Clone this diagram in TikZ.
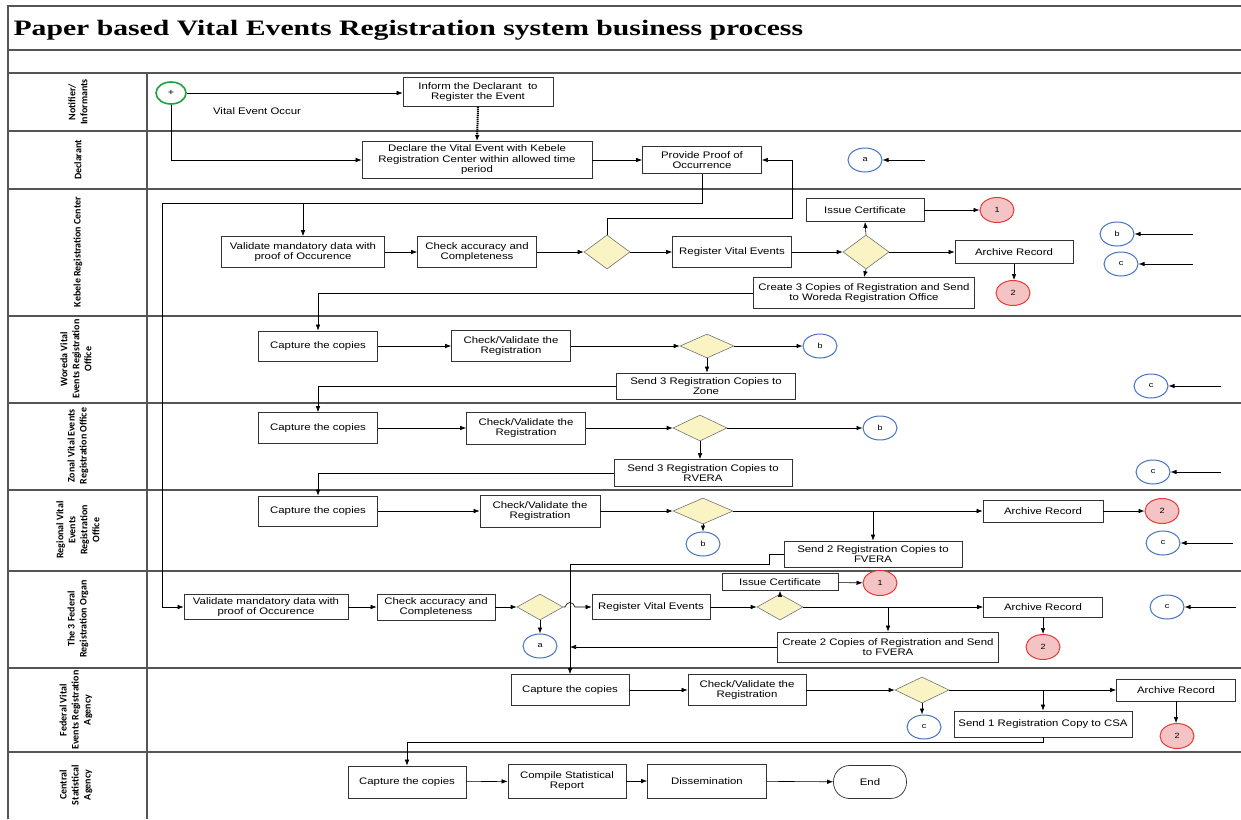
\documentclass[tikz,border=0pt]{standalone}
\usepackage{fontspec}
\setmainfont{Liberation Sans}
\newfontfamily\boxfont[FakeStretch=1.2]{Liberation Sans}
\newfontfamily\titlefont[FakeStretch=1.35]{Liberation Serif}
\newfontfamily\lanefont{Carlito}
\usetikzlibrary{shapes.geometric}
\usetikzlibrary{arrows.meta}
\usetikzlibrary{positioning}
\usepackage{xcolor}
\definecolor{decfill}{RGB}{250,244,196}
\definecolor{connblue}{RGB}{68,114,196}
\definecolor{endred}{RGB}{229,57,53}
\definecolor{endfill}{RGB}{244,196,196}
\definecolor{startgreen}{RGB}{30,160,60}
\definecolor{laneline}{RGB}{85,85,85}

\begin{document}
\begin{tikzpicture}[x=1pt,y=-1pt,>={Latex[length=6pt,width=4.5pt]},
  box/.style={draw=black!80,line width=0.7pt,fill=white,inner sep=1pt,align=center,font=\boxfont\fontsize{9.5}{10.5}\selectfont},
  dec/.style={diamond,draw=black!55,line width=0.6pt,fill=decfill,inner sep=0pt,minimum width=46pt,minimum height=34pt},
  conn/.style={ellipse,draw=connblue,line width=1pt,inner sep=0pt,minimum width=34pt,minimum height=24pt,font=\boxfont\fontsize{7.5}{8}\selectfont},
  endcirc/.style={ellipse,draw=endred,fill=endfill,line width=1pt,inner sep=0pt,minimum width=34pt,minimum height=25pt,font=\boxfont\fontsize{7.5}{8}\selectfont},
  lane/.style={rotate=90,align=center,font=\lanefont\bfseries\fontsize{10}{12}\selectfont},
  flow/.style={->,line width=0.6pt}]
\useasboundingbox (0,0) rectangle (1241,819);

% frame and swim lanes
\draw[laneline,line width=1.2pt] (8,819) -- (8,6) -- (1241,6);
\foreach \y in {50,73,131,189,316,403,490,571,668,752}
  \draw[laneline,line width=1.2pt] (8,\y) -- (1241,\y);
\draw[laneline,line width=1.2pt] (147,73) -- (147,819);
\node[anchor=west,font=\titlefont\bfseries\fontsize{22}{22}\selectfont] (title) at (10,30) {Paper based Vital Events Registration system business process};

\node[lane] (l1) at (78,102) {Notifier/\\Informants};
\node[lane] (l2) at (78,160) {Declarant};
\node[lane] (l3) at (78,252) {Kebele Registration Center};
\node[lane] (l4) at (76,359) {Woreda Vital\\Events Registration\\Office};
\node[lane] (l5) at (78,446) {Zonal Vital Events\\Registration Office};
\node[lane] (l6) at (78,530) {Regional Vital\\Events\\Registration\\Office};
\node[lane] (l7) at (78,619) {The 3 Federal\\Registration Organ};
\node[lane] (l8) at (76,710) {Federal Vital\\Events Registration\\Agency};
\node[lane] (l9) at (76,785) {Central\\Statistical\\Agency};

% notifier and declarant
\node[ellipse,draw=startgreen,line width=1.6pt,minimum width=30pt,minimum height=22pt,inner sep=0pt,font=\boxfont\small] (start) at (171,93) {+};
\node[font=\boxfont\fontsize{9.5}{10}\selectfont] (occur) at (257,111) {Vital Event Occur};
\node[box,minimum width=150pt,minimum height=29pt] (inform) at (478,92) {Inform the Declarant\ \ to\\Register the Event};
\node[box,minimum width=230pt,minimum height=37pt] (declare) at (477,160) {Declare the Vital Event with Kebele\\Registration Center within allowed time\\period};
\node[box,minimum width=119pt,minimum height=27pt] (prov) at (702,160) {Provide Proof of\\Occurrence};
\node[conn] (a1) at (865,160) {a};
\coordinate (a1in) at (925,160);

\draw[flow] (start.east) -- (start.east -| inform.west);
\draw[flow] (start.south) |- (declare.west);
\draw[->,line width=2pt,dash pattern=on 1.2pt off 0.8pt] (inform.south) -- (declare.north);
\draw[flow] (declare) -- (prov);
\draw[flow] (a1in) -- (a1);

% kebele
\node[box,minimum width=163pt,minimum height=31pt] (kval) at (303,252) {Validate mandatory data with\\proof of Occurence};
\node[box,minimum width=119pt,minimum height=31pt] (kchk) at (477,252) {Check accuracy and\\Completeness};
\node[dec] (kd1) at (607,252) {};
\node[box,minimum width=119pt,minimum height=31pt] (kreg) at (732,252) {Register Vital Events};
\node[dec] (kd2) at (866,252) {};
\node[box,minimum width=118pt,minimum height=23pt] (kiss) at (865,210) {Issue Certificate};
\node[endcirc] (k1) at (997,210) {1};
\node[box,minimum width=118pt,minimum height=23pt] (karc) at (1014,252) {Archive Record};
\node[endcirc] (k2) at (1013,293) {2};
\node[box,minimum width=221pt,minimum height=31pt] (kcopy) at (864,293) {Create 3 Copies of Registration and Send\\to Woreda Registration Office};
\node[conn] (b1) at (1117,234) {b};
\node[conn] (c1) at (1121,264) {c};
\coordinate (b1in) at (1193,234);
\coordinate (c1in) at (1193,264);
\coordinate (loop) at (162,203);
\coordinate (back) at (792,218);

\draw[flow] (kval.north |- loop) -- (kval.north);
\draw[flow] (kval) -- (kchk);
\draw[flow] (kchk) -- (kd1);
\draw[flow] (kd1) -- (kreg);
\draw[flow] (kd1.north) |- (back) |- (prov.east);
\draw[flow] (kreg) -- (kd2);
\draw[flow] (kd2.north) -- (kiss.south);
\draw[flow] (kiss) -- (k1);
\draw[flow] (kd2) -- (karc);
\draw[flow] (karc.south) -- (k2.north -| karc.south);
\draw[flow] (kd2.south) -- (kcopy.north);
\draw[flow] (b1in) -- (b1);
\draw[flow] (c1in) -- (c1);

% woreda
\node[box,minimum width=119pt,minimum height=30pt] (wcap) at (318,346) {Capture the copies};
\node[box,minimum width=119pt,minimum height=31pt] (wchk) at (511,346) {Check/Validate the\\Registration};
\node[dec,minimum width=54pt,minimum height=24pt] (wd) at (707,346) {};
\node[conn] (b2) at (820,346) {b};
\node[box,minimum width=179pt,minimum height=26pt] (wsend) at (706,386) {Send 3 Registration Copies to\\Zone};
\node[conn] (c2) at (1151,386) {c};
\coordinate (c2in) at (1221,386);

\draw[flow] (kcopy.west) -| (wcap.north);
\draw[flow] (wcap) -- (wchk);
\draw[flow] (wchk) -- (wd);
\draw[flow] (wd) -- (b2);
\draw[flow] (wd.south) -- (wsend.north -| wd.south);
\draw[flow] (c2in) -- (c2);

% zonal
\node[box,minimum width=119pt,minimum height=31pt] (zcap) at (318,428) {Capture the copies};
\node[box,minimum width=119pt,minimum height=32pt] (zchk) at (526,428) {Check/Validate the\\Registration};
\node[dec,minimum width=54pt,minimum height=26pt] (zd) at (700,428) {};
\node[conn] (b3) at (880,428) {b};
\node[box,minimum width=178pt,minimum height=27pt] (zsend) at (703,473) {Send 3 Registration Copies to\\RVERA};
\node[conn] (c3) at (1153,472) {c};
\coordinate (c3in) at (1221,472);

\draw[flow] (wsend.west) -| (zcap.north);
\draw[flow] (zcap) -- (zchk);
\draw[flow] (zchk) -- (zd);
\draw[flow] (zd) -- (b3);
\draw[flow] (zd.south) -- (zsend.north -| zd.south);
\draw[flow] (c3in) -- (c3);

% regional
\node[box,minimum width=119pt,minimum height=30pt] (rcap) at (318,511) {Capture the copies};
\node[box,minimum width=120pt,minimum height=32pt] (rchk) at (540,511) {Check/Validate the\\Registration};
\node[dec,minimum width=60pt,minimum height=26pt] (rd) at (703,511) {};
\node[conn] (b4) at (703,544) {b};
\node[box,minimum width=120pt,minimum height=22pt] (rarc) at (1043,511) {Archive Record};
\node[endcirc] (r2) at (1162,511) {2};
\node[box,minimum width=178pt,minimum height=26pt] (rsend) at (873,554) {Send 2 Registration Copies to\\FVERA};
\node[conn] (c4) at (1163,543) {c};
\coordinate (c4in) at (1233,543);
\coordinate (jog) at (769,564);

\draw[flow] (zsend.west) -| (rcap.north);
\draw[flow] (rcap) -- (rchk);
\draw[flow] (rchk) -- (rd);
\draw[flow] (rd) -- (rarc);
\draw[flow] (rarc) -- (r2);
\draw[flow] (rd.south) -- (b4);
\draw[flow] (rsend.north |- rd.east) -- (rsend.north);
\draw[flow] (c4in) -- (c4);

% the 3 federal registration organ
\node[box,minimum width=164pt,minimum height=25pt] (fval) at (266,607) {Validate mandatory data with\\proof of Occurence};
\node[box,minimum width=118pt,minimum height=26pt] (fchk) at (436,607) {Check accuracy and\\Completeness};
\node[dec,minimum width=46pt,minimum height=26pt] (fd1) at (540,607) {};
\node[conn] (a2) at (540,646) {a};
\node[box,minimum width=118pt,minimum height=25pt] (freg) at (651,607) {Register Vital Events};
\node[dec,minimum width=46pt,minimum height=26pt] (fd2) at (780,607) {};
\node[box,minimum width=116pt,minimum height=17pt] (fiss) at (780,582) {Issue Certificate};
\node[endcirc] (f1) at (880,583) {1};
\node[box,minimum width=119pt,minimum height=20pt] (farc) at (1043,607) {Archive Record};
\node[endcirc] (f2) at (1043,647) {2};
\node[box,minimum width=221pt,minimum height=30pt] (fcopy) at (888,647) {Create 2 Copies of Registration and Send\\to FVERA};
\node[conn] (c5) at (1167,607) {c};
\coordinate (c5in) at (1236,607);

\draw[flow] (prov.south) |- (loop) |- (fval.west);
\draw[flow] (fval) -- (fchk);
\draw[flow] (fchk) -- (fd1);
\draw[flow] (fd1.south) -- (a2);
\draw[flow] (fd1.east) -- (565,607) .. controls (567,601) and (573,601) .. (575,607) -- (freg.west);
\draw[flow] (freg) -- (fd2);
\draw[flow] (fd2.north) -- (fiss.south);
\draw[flow] (fiss) -- (f1);
\draw[flow] (fd2) -- (farc);
\draw[flow] (farc) -- (f2);
\draw[flow] (fcopy.north |- fd2.east) -- (fcopy.north);
\draw[flow] (c5in) -- (c5);

% federal vital events registration agency
\node[box,minimum width=118pt,minimum height=31pt] (acap) at (570,690) {Capture the copies};
\node[box,minimum width=118pt,minimum height=31pt] (achk) at (747,690) {Check/Validate the\\Registration};
\node[dec,minimum width=54pt,minimum height=26pt] (ad) at (922,690) {};
\node[conn] (c6) at (924,727) {c};
\node[box,minimum width=119pt,minimum height=22pt] (aarc) at (1176,690) {Archive Record};
\node[endcirc] (a3) at (1177,736) {2};
\node[box,minimum width=178pt,minimum height=26pt] (asend) at (1043,724) {Send 1 Registration Copy to CSA};

\draw[flow] (rsend.west) -| (jog) -| (acap.north);
\draw[flow] (fcopy.west) -- (fcopy.west -| acap.north);
\draw[flow] (acap) -- (achk);
\draw[flow] (achk) -- (ad);
\draw[flow] (ad) -- (aarc);
\draw[flow] (aarc) -- (a3.north -| aarc.south);
\draw[flow] (ad.south) -- (c6.north -| ad.south);
\draw[flow] (asend.north |- ad.east) -- (asend.north);

% central statistical agency
\node[box,minimum width=118pt,minimum height=32pt] (ccap) at (407,782) {Capture the copies};
\node[box,minimum width=118pt,minimum height=34pt] (crep) at (567,781) {Compile Statistical\\Report};
\node[box,minimum width=119pt,minimum height=34pt] (cdis) at (707,781) {Dissemination};
\node[box,rounded corners=16pt,minimum width=73pt,minimum height=33pt] (cend) at (870,782) {End};

\draw[flow] (asend.south) -- ++(0,5) -| (ccap.north);
\draw[flow] (ccap) -- (crep);
\draw[flow] (crep) -- (cdis);
\draw[flow] (cdis) -- (cend);
\end{tikzpicture}
\end{document}
